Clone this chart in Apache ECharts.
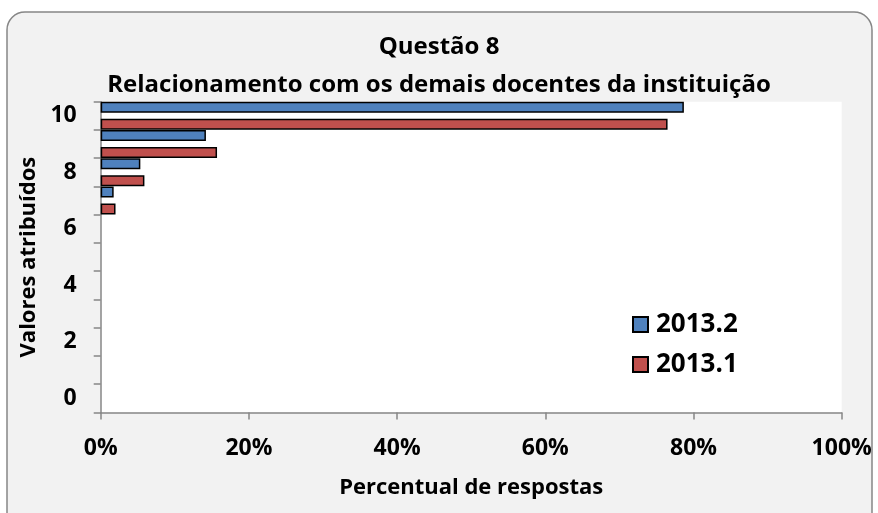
<!DOCTYPE html>
<html>
<head>
<meta charset="utf-8">
<script src="https://cdn.jsdelivr.net/npm/echarts@6/dist/echarts.min.js"></script>
<style>
  html, body { margin: 0; padding: 0; background: #fff; }
  #chart { width: 878px; height: 513px; }
</style>
</head>
<body>
<div id="chart"></div>
<script>
// valores atribuídos (0 a 10) e percentuais de respostas
const categories = ['0', '1', '2', '3', '4', '5', '6', '7', '8', '9', '10'];
const values20132 = [0, 0, 0, 0, 0, 0, 0, 1.75, 5.35, 14.2, 78.7];
const values20131 = [0, 0, 0, 0, 0, 0, 0, 2.0, 5.9, 15.7, 76.5];
const xTicks = [0, 20, 40, 60, 80, 100];

const font = 'Open Sans';
const axisGrey = '#868686';

// barras de valor zero não aparecem no original
const noZero = v => (v === 0 ? '-' : v);

var myChart = echarts.init(document.getElementById('chart'));

const option = {
  animation: false,
  textStyle: { fontFamily: font },
  graphic: [
    {
      type: 'rect',
      z: -10,
      shape: { x: 7, y: 12, width: 865, height: 540, r: 18 },
      style: { fill: '#f2f2f2', stroke: axisGrey, lineWidth: 1.5 }
    }
  ],
  title: {
    text: 'Questão 8\nRelacionamento com os demais docentes da instituição',
    left: 'center',
    top: 23,
    textStyle: {
      fontFamily: font,
      fontWeight: 'bold',
      fontSize: 24,
      lineHeight: 38,
      color: '#000'
    }
  },
  legend: {
    orient: 'vertical',
    left: 632,
    top: 311,
    padding: 0,
    icon: 'rect',
    itemWidth: 15,
    itemHeight: 15,
    itemGap: 13,
    textStyle: { fontFamily: font, fontWeight: 'bold', fontSize: 26, lineHeight: 27, color: '#000', padding: [0, 0, 0, 3] },
    data: ['2013.2', '2013.1']
  },
  grid: {
    left: 100.7,
    right: 36.3,
    top: 101.7,
    bottom: 100.5,
    show: true,
    backgroundColor: '#fff',
    borderWidth: 0
  },
  xAxis: {
    type: 'value',
    min: xTicks[0],
    max: xTicks[xTicks.length - 1],
    interval: 20,
    name: 'Percentual de respostas',
    nameLocation: 'middle',
    nameGap: 64,
    nameTextStyle: { fontFamily: font, fontWeight: 'bold', fontSize: 22, color: '#000' },
    axisLine: { show: true, lineStyle: { color: axisGrey, width: 1.5 } },
    axisTick: { show: true, length: 7, lineStyle: { color: axisGrey, width: 1.5 } },
    axisLabel: {
      margin: 24,
      formatter: '{value}%',
      fontFamily: font,
      fontWeight: 'bold',
      fontSize: 23,
      color: '#000'
    },
    splitLine: { show: false }
  },
  yAxis: {
    type: 'category',
    data: categories,
    name: 'Valores atribuídos',
    nameLocation: 'middle',
    nameGap: 59,
    nameTextStyle: { fontFamily: font, fontWeight: 'bold', fontSize: 22, color: '#000' },
    axisLine: { show: true, lineStyle: { color: axisGrey, width: 1.5 } },
    axisTick: { show: true, length: 7, interval: 0, lineStyle: { color: axisGrey, width: 1.5 } },
    axisLabel: {
      margin: 24,
      interval: function (index) { return index % 2 === 0; },
      fontFamily: font,
      fontWeight: 'bold',
      fontSize: 23,
      color: '#000'
    }
  },
  series: [
    {
      name: '2013.2',
      type: 'bar',
      barWidth: 11,
      barGap: '55%',
      barCategoryGap: '0%',
      itemStyle: { color: '#4f81bd', borderColor: '#000', borderWidth: 1.5 },
      data: values20132.map(noZero)
    },
    {
      name: '2013.1',
      type: 'bar',
      barWidth: 11,
      barGap: '55%',
      barCategoryGap: '0%',
      itemStyle: { color: '#c0504d', borderColor: '#000', borderWidth: 1.5 },
      data: values20131.map(noZero)
    }
  ]
};

myChart.setOption(option);
</script>
</body>
</html>
